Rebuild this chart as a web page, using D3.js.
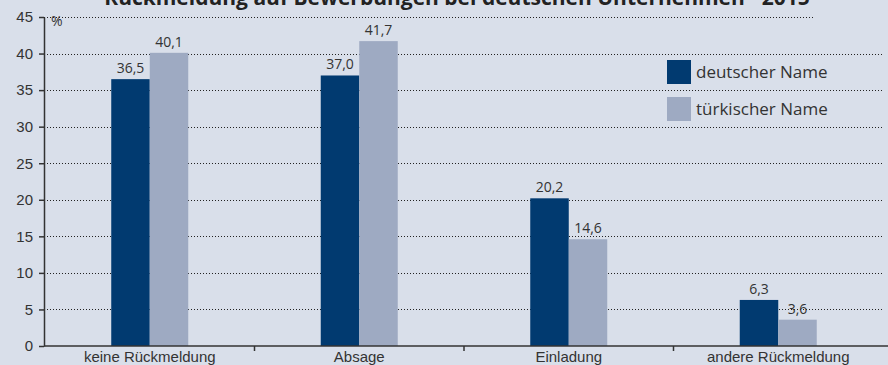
<!DOCTYPE html>
<html>
<head>
<meta charset="utf-8">
<script src="https://cdn.jsdelivr.net/npm/d3@7"></script>
<style>
  body { margin: 0; background: #d9dfea; }
  svg { display: block; font-family: "Open Sans", "Noto Sans", sans-serif; }
</style>
</head>
<body>
<div id="chart"></div>
<script>
const categories = ["keine Rückmeldung", "Absage", "Einladung", "andere Rückmeldung"];
const seriesNames = ["deutscher Name", "türkischer Name"];
const deutsch = [36.5, 37.0, 20.2, 6.3];
const tuerkisch = [40.1, 41.7, 14.6, 3.6];
const yTicks = [0, 5, 10, 15, 20, 25, 30, 35, 40, 45];
const colors = ["#013a70", "#9eaac2"];

const width = 888, height = 365;
const margin = { left: 44, right: 6, top: 17, bottom: 19 };

const svg = d3.select("#chart")
    .append("svg")
    .attr("width", width)
    .attr("height", height);

svg.append("rect").attr("width", width).attr("height", height).attr("fill", "#d9dfea");

// bands a bit shifted so bar groups sit where the original has them
const x = d3.scaleBand()
    .domain(categories)
    .range([margin.left + 1, width - margin.right + 1]);

const y = d3.scaleLinear()
    .domain([0, 45])
    .range([height - margin.bottom, margin.top]);

const barW = 38.5;

// gridlines
svg.append("g")
    .selectAll("line")
    .data(yTicks.filter(d => d > 0))
    .enter()
    .append("line")
    .attr("x1", margin.left)
    .attr("x2", d => d === 45 ? 813 : 882)
    .attr("y1", d => Math.round(y(d)) + 0.5)
    .attr("y2", d => Math.round(y(d)) + 0.5)
    .attr("stroke", "#222")
    .attr("stroke-width", 1)
    .attr("stroke-dasharray", "1,2");

// bars
const data = categories.map((c, i) => ({ cat: c, vals: [deutsch[i], tuerkisch[i]] }));
const groups = svg.append("g").selectAll("g")
    .data(data)
    .enter()
    .append("g");

groups.selectAll("rect")
    .data(d => d.vals.map((v, j) => ({ cat: d.cat, v: v, j: j })))
    .enter()
    .append("rect")
    .attr("x", d => x(d.cat) + x.bandwidth() / 2 - barW + d.j * barW)
    .attr("y", d => y(d.v))
    .attr("width", barW)
    .attr("height", d => y(0) - y(d.v))
    .attr("fill", d => colors[d.j]);

groups.selectAll("text")
    .data(d => d.vals.map((v, j) => ({ cat: d.cat, v: v, j: j })))
    .enter()
    .append("text")
    .attr("x", d => x(d.cat) + x.bandwidth() / 2 - barW / 2 + d.j * barW)
    .attr("y", d => y(d.v) - 6)
    .attr("text-anchor", "middle")
    .style("font-size", "14px")
    .attr("fill", "#333")
    .text(d => d3.format(".1f")(d.v).replace(".", ","));

// y axis
const yAxis = svg.append("g")
    .attr("transform", `translate(${margin.left},0)`)
    .call(d3.axisLeft(y).tickValues(yTicks).tickSize(5).tickPadding(6).tickSizeOuter(0));
yAxis.select(".domain").attr("stroke", "#333").attr("stroke-width", 1.5);
yAxis.selectAll(".tick line").attr("stroke", "#333").attr("stroke-width", 1.5);
yAxis.selectAll("text").style("font-size", "15px").attr("fill", "#333");

// x axis
const xAxis = svg.append("g")
    .attr("transform", `translate(0,${y(0)})`)
    .call(d3.axisBottom(x).tickSize(0).tickPadding(5).tickSizeOuter(0));
xAxis.select(".domain").attr("stroke", "#333").attr("stroke-width", 1.5)
    .attr("d", `M${margin.left},0H${width}`);
xAxis.selectAll("text").style("font-size", "15px").attr("fill", "#333");

// separators between categories
svg.append("g").selectAll("line")
    .data(categories.slice(1))
    .enter()
    .append("line")
    .attr("x1", d => x(d))
    .attr("x2", d => x(d))
    .attr("y1", y(0))
    .attr("y2", y(0) + 5)
    .attr("stroke", "#333")
    .attr("stroke-width", 1.5);

// % unit
svg.append("text")
    .attr("x", 51)
    .attr("y", 26)
    .style("font-size", "14px")
    .attr("fill", "#333")
    .text("%");

// title (cut at top, as in the original)
svg.append("text")
    .attr("x", 457)
    .attr("y", 5)
    .attr("text-anchor", "middle")
    .style("font-size", "21px")
    .style("font-weight", "bold")
    .attr("fill", "#222")
    .text("Rückmeldung auf Bewerbungen bei deutschen Unternehmen* 2015");

// legend
const legend = svg.append("g").selectAll("g")
    .data(seriesNames)
    .enter()
    .append("g")
    .attr("transform", (d, i) => `translate(667,${60 + i * 37})`);
legend.append("rect")
    .attr("width", 24)
    .attr("height", 24)
    .attr("fill", (d, i) => colors[i]);
legend.append("text")
    .attr("x", 29)
    .attr("y", 18)
    .style("font-size", "17px")
    .attr("fill", "#333")
    .text(d => d);
</script>
</body>
</html>
